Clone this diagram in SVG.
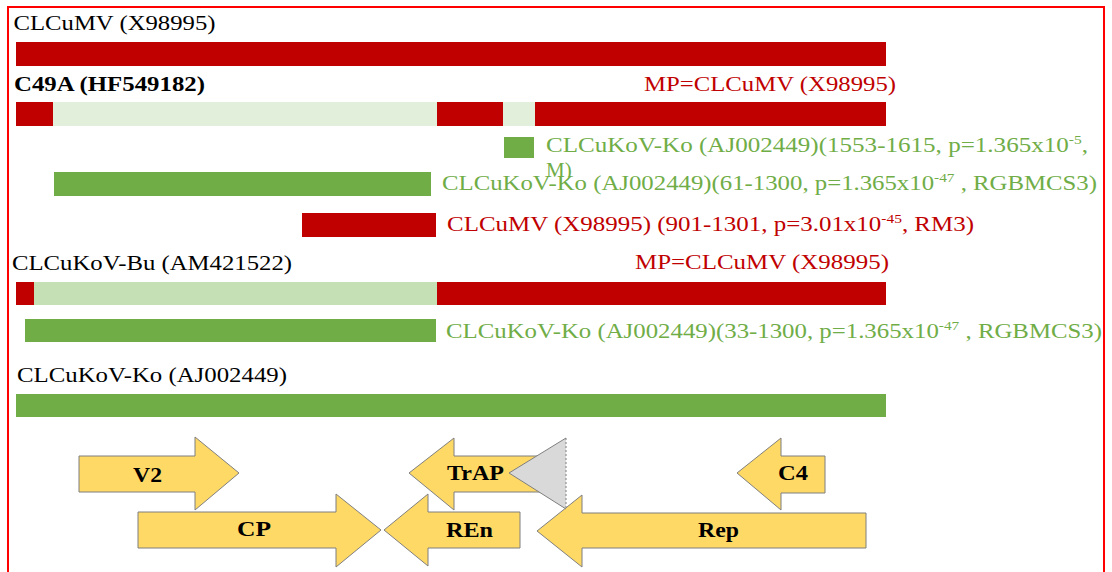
<svg xmlns="http://www.w3.org/2000/svg" width="1112" height="572" viewBox="0 0 1112 572">
  <defs>
    <style>
      .lbl { font-family: "Liberation Serif", "Times New Roman", serif; font-size: 21px; }
      .blk { fill: #000000; }
      .red { fill: #C00000; }
      .grn { fill: #70AD47; }
      .bold { font-weight: bold; }
      .sup { font-size: 13px; }
      .bar-red { fill: #C00000; }
      .bar-grn { fill: #70AD47; }
      .bar-pale { fill: #E2EFDA; }
      .bar-light { fill: #C5E0B4; }
      .gene { fill: #FFD966; stroke: #7F7F7F; stroke-width: 1; stroke-linejoin: miter; }
      .gene-txt { font-family: "Liberation Serif", "Times New Roman", serif; font-size: 21px; font-weight: bold; fill: #000000; }
    </style>
  </defs>

  <rect x="0" y="0" width="1112" height="572" fill="#FFFFFF"/>
  <!-- frame -->
  <rect x="8" y="7" width="1096" height="580" fill="none" stroke="#FF0000" stroke-width="2"/>

  <!-- genome tracks -->
  <g id="track-clcumv">
    <text class="lbl blk" x="13.5" y="30" textLength="202" lengthAdjust="spacingAndGlyphs">CLCuMV (X98995)</text>
    <rect class="bar-red" x="16" y="42" width="870" height="24"/>
  </g>

  <g id="track-c49a">
    <text class="lbl blk bold" x="14" y="91" textLength="191" lengthAdjust="spacingAndGlyphs">C49A (HF549182)</text>
    <text class="lbl red" x="644" y="91" textLength="252" lengthAdjust="spacingAndGlyphs">MP=CLCuMV (X98995)</text>
    <rect class="bar-pale" x="16" y="102" width="870" height="24"/>
    <rect class="bar-red" x="16" y="102" width="37" height="24"/>
    <rect class="bar-red" x="437" y="102" width="66" height="24"/>
    <rect class="bar-red" x="535" y="102" width="351" height="24"/>
  </g>

  <g id="event-m">
    <rect class="bar-grn" x="504" y="137" width="30" height="21"/>
    <text class="lbl grn" x="546" y="152" textLength="542" lengthAdjust="spacingAndGlyphs">CLCuKoV-Ko (AJ002449)(1553-1615, p=1.365x10<tspan class="sup" dy="-8">-5</tspan><tspan dy="8">,</tspan></text>
    <text class="lbl grn" x="546" y="177">M)</text>
  </g>

  <g id="event-rgbmcs3-a">
    <rect class="bar-grn" x="54" y="172" width="377" height="24"/>
    <text class="lbl grn" x="442" y="190" textLength="655" lengthAdjust="spacingAndGlyphs">CLCuKoV-Ko (AJ002449)(61-1300, p=1.365x10<tspan class="sup" dy="-8">-47</tspan><tspan dy="8"> , RGBMCS3)</tspan></text>
  </g>

  <g id="event-rm3">
    <rect class="bar-red" x="302" y="213" width="134" height="24"/>
    <text class="lbl red" x="447" y="231" textLength="527" lengthAdjust="spacingAndGlyphs">CLCuMV (X98995) (901-1301, p=3.01x10<tspan class="sup" dy="-8">-45</tspan><tspan dy="8">, RM3)</tspan></text>
  </g>

  <g id="track-bu">
    <text class="lbl blk" x="12" y="270" textLength="280" lengthAdjust="spacingAndGlyphs">CLCuKoV-Bu (AM421522)</text>
    <text class="lbl red" x="635" y="269" textLength="254" lengthAdjust="spacingAndGlyphs">MP=CLCuMV (X98995)</text>
    <rect class="bar-light" x="16" y="282" width="870" height="23"/>
    <rect class="bar-red" x="16" y="282" width="18" height="23"/>
    <rect class="bar-red" x="437" y="282" width="449" height="23"/>
  </g>

  <g id="event-rgbmcs3-b">
    <rect class="bar-grn" x="25" y="319" width="411" height="23"/>
    <text class="lbl grn" x="446" y="338" textLength="656" lengthAdjust="spacingAndGlyphs">CLCuKoV-Ko (AJ002449)(33-1300, p=1.365x10<tspan class="sup" dy="-8">-47</tspan><tspan dy="8"> , RGBMCS3)</tspan></text>
  </g>

  <g id="track-ko">
    <text class="lbl blk" x="17" y="382" textLength="270" lengthAdjust="spacingAndGlyphs">CLCuKoV-Ko (AJ002449)</text>
    <rect class="bar-grn" x="16" y="394" width="870" height="23"/>
  </g>

  <!-- genome map: ORF arrows -->
  <g id="gene-v2">
    <polygon class="gene" points="79,456 195,456 195,437 239,473 195,510 195,492 79,492"/>
    <text class="gene-txt" x="133" y="482" textLength="29" lengthAdjust="spacingAndGlyphs">V2</text>
  </g>
  <g id="gene-cp">
    <polygon class="gene" points="138,512 336,512 336,494 381,530 336,567 336,548 138,548"/>
    <text class="gene-txt" x="237" y="536" textLength="34" lengthAdjust="spacingAndGlyphs">CP</text>
  </g>
  <g id="gene-ren">
    <polygon class="gene" points="384,530 428,494 428,512 520,512 520,548 428,548 428,566"/>
    <text class="gene-txt" x="446" y="537" textLength="47" lengthAdjust="spacingAndGlyphs">REn</text>
  </g>
  <g id="gene-trap">
    <polygon class="gene" points="409,473 454,438 454,456 545,456 545,492 454,492 454,510"/>
    <text class="gene-txt" x="447" y="480" textLength="57" lengthAdjust="spacingAndGlyphs">TrAP</text>
  </g>
  <g id="gene-c4">
    <polygon class="gene" points="737,473 781,438 781,456 825,456 825,493 781,493 781,510"/>
    <text class="gene-txt" x="778" y="480" textLength="30" lengthAdjust="spacingAndGlyphs">C4</text>
  </g>
  <g id="gene-rep">
    <polygon class="gene" points="537,531 582,495 582,513 866,513 866,548 582,548 582,567"/>
    <text class="gene-txt" x="698" y="537" textLength="41" lengthAdjust="spacingAndGlyphs">Rep</text>
  </g>
  <g id="marker-triangle">
    <polygon points="566,438 566,509 509,473" fill="#D9D9D9" stroke="none"/>
    <polyline points="566,438 509,473 566,509" fill="none" stroke="#7F7F7F" stroke-width="1"/>
    <line x1="566" y1="438" x2="566" y2="509" stroke="#7F7F7F" stroke-width="1" stroke-dasharray="2,2"/>
  </g>
</svg>
